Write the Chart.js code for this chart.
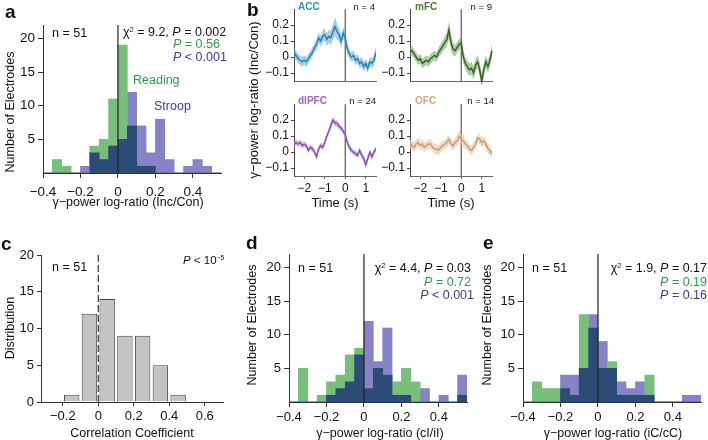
<!DOCTYPE html>
<html>
<head>
<meta charset="utf-8">
<script src="https://cdn.jsdelivr.net/npm/chart.js@4.4.1/dist/chart.umd.min.js"></script>
<style>
html, body { margin: 0; padding: 0; background: #fff; }
#wrap { position: relative; width: 708px; height: 440px; overflow: hidden; font-family: "Liberation Sans", Arial, sans-serif; color: #111; }
canvas { position: absolute; }
.t { position: absolute; white-space: nowrap; line-height: 1; z-index: 5; }
.sup { font-size: 0.6em; vertical-align: 0.55em; }
</style>
</head>
<body>
<div id="wrap"></div>
<script>
// histogram bins (left edges, 0.05 wide) shared by panels a, d, e
const binLeft = [-0.4, -0.35, -0.3, -0.25, -0.2, -0.15, -0.1, -0.05, 0, 0.05, 0.1, 0.15, 0.2, 0.25, 0.3, 0.35, 0.4, 0.45, 0.5];
const binWidth = 0.05;
const readingA = [0, 2, 1, 0, 0, 4, 5, 11, 19, 7, 1, 1, 0, 0, 0, 0, 0, 0, 0];
const stroopA  = [0, 0, 0, 0, 1, 3, 2, 4, 5, 12, 7, 3, 8, 2, 0, 1, 2, 1, 0];
const readingD = [0, 5, 0, 1, 3, 4, 7, 8, 2, 5, 4, 3, 5, 3, 0, 0, 0, 0, 1];
const stroopD  = [0, 0, 0, 0, 1, 2, 3, 7, 12, 6, 11, 1, 1, 0, 2, 0, 1, 0, 4];
const readingE = [0, 3, 2, 2, 2, 1, 13, 11, 5, 6, 1, 1, 1, 4, 0, 0, 0, 0, 0];
const stroopE  = [0, 0, 0, 0, 4, 4, 5, 13, 9, 5, 3, 2, 3, 1, 0, 0, 0, 1, 1];
const histXTicks = [-0.4, -0.2, 0, 0.2, 0.4];
const histYTicks = [5, 10, 15, 20];

// panel c
const corrCenters = [-0.15, -0.05, 0.05, 0.15, 0.25, 0.35, 0.45];
const corrCounts = [1, 12, 14, 9, 9, 5, 1];
const corrXTicks = [-0.2, 0, 0.2, 0.4, 0.6];
const corrYTicks = [0, 5, 10, 15, 20];

// panel b time courses
const timeSec = [-2.5, -2.4, -2.3, -2.2, -2.1, -2, -1.9, -1.8, -1.7, -1.6, -1.5, -1.4, -1.3, -1.2, -1.1, -1, -0.9, -0.8, -0.7, -0.6, -0.5, -0.4, -0.3, -0.2, -0.1, 0, 0.1, 0.2, 0.3, 0.4, 0.5, 0.6, 0.7, 0.8, 0.9, 1, 1.1, 1.2, 1.3, 1.4, 1.5];
const accMean = [0.03, 0.01, -0.01, -0.02, -0.03, -0.02, -0.03, -0.01, 0.01, 0.03, 0.06, 0.08, 0.12, 0.10, 0.13, 0.14, 0.11, 0.13, 0.12, 0.16, 0.19, 0.16, 0.14, 0.10, 0.15, 0.12, 0.05, 0.02, 0.00, 0.01, -0.02, -0.01, -0.04, -0.03, -0.06, -0.04, -0.07, -0.03, -0.04, -0.02, 0.03];
const accSem = [0.03, 0.03, 0.03, 0.03, 0.03, 0.03, 0.03, 0.03, 0.03, 0.03, 0.03, 0.035, 0.035, 0.035, 0.04, 0.04, 0.04, 0.04, 0.045, 0.05, 0.06, 0.05, 0.045, 0.04, 0.04, 0.035, 0.03, 0.03, 0.03, 0.03, 0.03, 0.03, 0.03, 0.03, 0.03, 0.03, 0.03, 0.03, 0.03, 0.035, 0.04];
const mfcMean = [0.03, 0.04, 0.02, 0.00, -0.02, -0.01, -0.04, -0.03, -0.02, -0.03, -0.01, 0.00, 0.01, 0.00, 0.03, 0.05, 0.07, 0.09, 0.11, 0.17, 0.09, 0.05, 0.04, 0.06, 0.08, 0.09, 0.00, -0.04, -0.06, -0.08, -0.07, -0.10, -0.05, -0.03, -0.08, -0.15, -0.08, -0.03, -0.06, -0.02, 0.04];
const mfcSem = [0.03, 0.03, 0.03, 0.03, 0.03, 0.03, 0.03, 0.03, 0.03, 0.03, 0.03, 0.03, 0.03, 0.03, 0.03, 0.035, 0.035, 0.04, 0.045, 0.055, 0.05, 0.04, 0.035, 0.035, 0.035, 0.035, 0.04, 0.04, 0.04, 0.04, 0.04, 0.04, 0.04, 0.04, 0.045, 0.055, 0.045, 0.04, 0.04, 0.04, 0.045];
const dlpfcMean = [0.05, 0.06, 0.05, 0.06, 0.04, 0.05, 0.04, 0.01, 0.03, 0.02, 0.00, -0.03, 0.02, 0.04, 0.03, 0.06, 0.10, 0.13, 0.17, 0.20, 0.18, 0.18, 0.16, 0.15, 0.13, 0.11, 0.06, 0.03, 0.01, 0.00, -0.01, -0.02, 0.01, -0.02, -0.04, -0.08, -0.04, 0.00, -0.03, 0.00, 0.02];
const dlpfcSem = [0.018, 0.018, 0.018, 0.018, 0.018, 0.018, 0.018, 0.018, 0.018, 0.018, 0.018, 0.018, 0.018, 0.018, 0.018, 0.018, 0.018, 0.02, 0.02, 0.022, 0.022, 0.02, 0.02, 0.02, 0.02, 0.02, 0.02, 0.02, 0.018, 0.018, 0.018, 0.018, 0.018, 0.02, 0.02, 0.025, 0.022, 0.02, 0.02, 0.02, 0.02];
const ofcMean = [0.05, 0.04, 0.03, 0.05, 0.06, 0.04, 0.05, 0.03, 0.04, 0.05, 0.05, 0.03, 0.02, 0.02, 0.01, 0.03, 0.04, 0.05, 0.06, 0.08, 0.05, 0.04, 0.06, 0.07, 0.10, 0.08, 0.07, 0.05, 0.04, 0.02, 0.01, 0.03, 0.05, 0.09, 0.08, 0.06, 0.07, 0.05, 0.02, 0.01, -0.01];
const ofcSem = [0.03, 0.03, 0.03, 0.03, 0.03, 0.03, 0.03, 0.03, 0.03, 0.03, 0.03, 0.03, 0.03, 0.03, 0.03, 0.03, 0.03, 0.03, 0.03, 0.03, 0.03, 0.03, 0.03, 0.035, 0.035, 0.035, 0.035, 0.03, 0.03, 0.03, 0.03, 0.03, 0.03, 0.03, 0.03, 0.03, 0.03, 0.03, 0.03, 0.03, 0.03];
const timeTicks = [-2, -1, 0, 1];
const powerTicks = [-0.1, 0, 0.1, 0.2];

const FONT = '"Liberation Sans", Arial, sans-serif';
const GREEN = '#78bf7c', PURPLE = '#8783c9', DARK = '#2d4b77';
const GREEN_TXT = '#2f9a4e', NAVY_TXT = '#3b3b96';
const wrap = document.getElementById('wrap');

const fmt = v => (v < 0 ? '\u2212' + Math.abs(v) : String(v));

// vertical reference line at x = 0
const zeroLine = {
    id: 'zeroLine',
    draw(chart, o) {
        const x = chart.scales.x.getPixelForValue(0);
        const a = chart.chartArea;
        const ctx = chart.ctx;
        ctx.save();
        ctx.strokeStyle = o.color;
        ctx.lineWidth = o.width;
        ctx.setLineDash(o.dash || []);
        ctx.beginPath();
        ctx.moveTo(x, a.top);
        ctx.lineTo(x, a.bottom);
        ctx.stroke();
        ctx.restore();
    },
    beforeDatasetsDraw(chart, args, o) { if (o.under) this.draw(chart, o); },
    afterDatasetsDraw(chart, args, o) { if (!o.under) this.draw(chart, o); }
};

// canvas whose chart area lands exactly on the given page rectangle
function makeCanvas(area, m) {
    const c = document.createElement('canvas');
    const w = area.r - area.l + m.l + m.r;
    const h = area.b - area.t + m.t + m.b;
    c.width = w; c.height = h;
    c.style.width = w + 'px'; c.style.height = h + 'px';
    c.style.left = (area.l - m.l) + 'px';
    c.style.top = (area.t - m.t) + 'px';
    wrap.appendChild(c);
    return c;
}

function axis(o) {
    return {
        type: 'linear', min: o.min, max: o.max, offset: false, bounds: 'data',
        afterFit: s => { if (s.isHorizontal()) s.height = o.size; else s.width = o.size; },
        afterBuildTicks: s => { s.ticks = o.ticks.map(v => ({ value: v })); },
        grid: { display: true, offset: false, drawOnChartArea: false, drawTicks: o.ticks.length > 0, tickLength: o.tl, tickColor: o.color, tickWidth: 1 },
        border: { display: true, color: o.color, width: 1 },
        ticks: { display: o.labels !== false, padding: o.pad, color: '#111', font: { family: FONT, size: o.font }, callback: fmt, maxRotation: 0, autoSkip: false }
    };
}

function histChart(area, reading, stroop, fontSize, xPad) {
    const m = { l: 42, t: 12, r: 14, b: 34 };
    const pts = arr => arr.map((v, i) => ({ x: binLeft[i] + binWidth / 2, y: v }));
    const both = reading.map((v, i) => Math.min(v, stroop[i]));
    const ds = (data, color) => ({
        data: pts(data), backgroundColor: color, borderWidth: 0,
        barPercentage: 1, categoryPercentage: 1, grouped: false
    });
    return new Chart(makeCanvas(area, m), {
        type: 'bar',
        data: { datasets: [ds(both, DARK), ds(reading, GREEN), ds(stroop, PURPLE)] },
        options: {
            responsive: false, animation: false, devicePixelRatio: 1,
            layout: { padding: { left: 0, top: m.t, right: m.r, bottom: 0 } },
            plugins: { legend: { display: false }, tooltip: { enabled: false }, zeroLine: { color: '#222', width: 1.2 } },
            scales: {
                x: axis({ min: -0.4, max: 0.55, ticks: histXTicks, size: m.b, tl: 5, pad: xPad, font: fontSize, color: '#333' }),
                y: axis({ min: 0, max: 22, ticks: histYTicks, size: m.l, tl: 5, pad: 3, font: fontSize, color: '#333' })
            }
        },
        plugins: [zeroLine]
    });
}

function traceChart(area, mean, sem, lineColor, bandColor, bottomRow, noClip) {
    const m = { l: 36, t: 2, r: 8, b: 24 };
    const pts = arr => arr.map((v, i) => ({ x: timeSec[i], y: v }));
    const upper = mean.map((v, i) => v + sem[i]);
    const lower = mean.map((v, i) => v - sem[i]);
    const clip = noClip ? false : undefined;
    return new Chart(makeCanvas(area, m), {
        type: 'line',
        data: {
            datasets: [
                { data: pts(mean), borderColor: lineColor, borderWidth: 1.5, pointRadius: 0, tension: 0, fill: false, clip },
                { data: pts(upper), borderWidth: 0, pointRadius: 0, backgroundColor: bandColor, fill: '+1', tension: 0, clip },
                { data: pts(lower), borderWidth: 0, pointRadius: 0, fill: false, tension: 0, clip }
            ]
        },
        options: {
            responsive: false, animation: false, devicePixelRatio: 1,
            layout: { padding: { left: 0, top: m.t, right: m.r, bottom: 0 } },
            plugins: { legend: { display: false }, tooltip: { enabled: false }, zeroLine: { color: '#555', width: 1.2, under: true } },
            scales: {
                x: axis({ min: -2.5, max: 1.5, ticks: bottomRow ? timeTicks : [], labels: bottomRow, size: m.b, tl: 3, pad: 2, font: 12, color: '#666' }),
                y: axis({ min: -0.15, max: 0.3, ticks: powerTicks, size: m.l, tl: 3, pad: 2, font: 12, color: '#444' })
            }
        },
        plugins: [zeroLine]
    });
}

function corrChart(area) {
    const m = { l: 40, t: 12, r: 14, b: 30 };
    return new Chart(makeCanvas(area, m), {
        type: 'bar',
        data: {
            datasets: [{
                data: corrCenters.map((c, i) => ({ x: c, y: corrCounts[i] })),
                backgroundColor: '#c4c4c4', borderColor: '#4a4a4a', borderWidth: 1,
                barPercentage: 0.87, categoryPercentage: 1
            }]
        },
        options: {
            responsive: false, animation: false, devicePixelRatio: 1,
            layout: { padding: { left: 0, top: m.t, right: m.r, bottom: 0 } },
            plugins: { legend: { display: false }, tooltip: { enabled: false }, zeroLine: { color: '#333', width: 1.2, dash: [7, 3] } },
            scales: {
                x: axis({ min: -0.323, max: 0.703, ticks: corrXTicks, size: m.b, tl: 4, pad: 3, font: 13, color: '#333' }),
                y: axis({ min: 0, max: 20, ticks: corrYTicks, size: m.l, tl: 4, pad: 3, font: 13, color: '#333' })
            }
        },
        plugins: [zeroLine]
    });
}

function text(html, x, y, o = {}) {
    const d = document.createElement('div');
    d.className = 't';
    d.innerHTML = html;
    d.style.left = x + 'px';
    d.style.top = y + 'px';
    d.style.fontSize = (o.size || 12.5) + 'px';
    if (o.color) d.style.color = o.color;
    if (o.bold) d.style.fontWeight = 'bold';
    const tx = o.align === 'right' ? '-100%' : o.align === 'center' ? '-50%' : '0';
    d.style.transform = 'translate(' + tx + ', -50%)' + (o.rotate ? ' rotate(-90deg)' : '');
    wrap.appendChild(d);
}

// charts
histChart({ l: 43, t: 25, r: 221, b: 173 }, readingA, stroopA, 13.5, 6);
traceChart({ l: 294, t: 2, r: 376, b: 81 }, accMean, accSem, '#2e84b2', 'rgba(95,168,210,0.55)', false, false);
traceChart({ l: 410, t: 2, r: 492, b: 81 }, mfcMean, mfcSem, '#37652a', 'rgba(110,160,95,0.55)', false, true);
traceChart({ l: 294, t: 97, r: 376, b: 176 }, dlpfcMean, dlpfcSem, '#8a52b5', 'rgba(185,145,215,0.6)', true, false);
traceChart({ l: 410, t: 97, r: 492, b: 176 }, ofcMean, ofcSem, '#c99d74', 'rgba(230,200,170,0.65)', true, false);
corrChart({ l: 41, t: 255, r: 223, b: 402 });
histChart({ l: 289, t: 254, r: 467, b: 402 }, readingD, stroopD, 13, 3);
histChart({ l: 523, t: 254, r: 701, b: 402 }, readingE, stroopE, 13, 3);

// panel letters
text('a', 5, 11, { size: 19, bold: true });
text('b', 247, 9, { size: 19, bold: true });
text('c', 1, 243, { size: 19, bold: true });
text('d', 246, 242, { size: 19, bold: true });
text('e', 483, 242, { size: 19, bold: true });

// axis titles
const gammaTitle = '\u03b3\u2212power log-ratio ';
text('Number of Electrodes', 10, 112, { align: 'center', rotate: true });
text(gammaTitle + '(Inc/Con)', 128, 202, { align: 'center' });
text(gammaTitle + '(Inc/Con)', 253, 100, { align: 'center', rotate: true, size: 13 });
text('Time (s)', 335, 202, { align: 'center', size: 13 });
text('Time (s)', 451, 202, { align: 'center', size: 13 });
text('Distribution', 10, 328, { align: 'center', rotate: true });
text('Correlation Coefficient', 132, 433, { align: 'center' });
text('Number of Electrodes', 252, 325, { align: 'center', rotate: true });
text(gammaTitle + '(cI/iI)', 380, 433, { align: 'center' });
text('Number of Electrodes', 487, 325, { align: 'center', rotate: true });
text(gammaTitle + '(iC/cC)', 613, 433, { align: 'center' });

// panel a annotations
text('n = 51', 52, 33);
text('\u03c7<span class="sup">2</span> = 9.2, <i>P</i> = 0.002', 123, 32);
text('<i>P</i> = 0.56', 173, 44, { color: GREEN_TXT });
text('<i>P</i> &lt; 0.001', 173, 57, { color: NAVY_TXT });
text('Reading', 133, 80, { color: GREEN_TXT });
text('Stroop', 154, 106, { color: NAVY_TXT });

// panel b labels
text('ACC', 298, 7, { size: 10, bold: true, color: '#3b8ebd' });
text('n = 4', 375, 7, { size: 9.5, align: 'right' });
text('mFC', 415, 7, { size: 10, bold: true, color: '#4a7a34' });
text('n = 9', 492, 7, { size: 9.5, align: 'right' });
text('dlPFC', 298, 101, { size: 10, bold: true, color: '#9b62c2' });
text('n = 24', 376, 101, { size: 9.5, align: 'right' });
text('OFC', 415, 101, { size: 10, bold: true, color: '#d8a87c' });
text('n = 14', 494, 101, { size: 9.5, align: 'right' });

// panel c annotations
text('n = 51', 52, 267);
text('<i>P</i> &lt; 10<span class="sup">\u22125</span>', 183, 261, { size: 11.5 });

// panel d annotations
text('n = 51', 298, 268);
text('\u03c7<span class="sup">2</span> = 4.4, <i>P</i> = 0.03', 471, 268, { align: 'right' });
text('<i>P</i> = 0.72', 471, 282, { align: 'right', color: GREEN_TXT });
text('<i>P</i> &lt; 0.001', 474, 295, { align: 'right', color: NAVY_TXT });

// panel e annotations
text('n = 51', 532, 268);
text('\u03c7<span class="sup">2</span> = 1.9, <i>P</i> = 0.17', 707, 268, { align: 'right' });
text('<i>P</i> = 0.19', 707, 282, { align: 'right', color: GREEN_TXT });
text('<i>P</i> = 0.16', 707, 295, { align: 'right', color: NAVY_TXT });
</script>
</body>
</html>
